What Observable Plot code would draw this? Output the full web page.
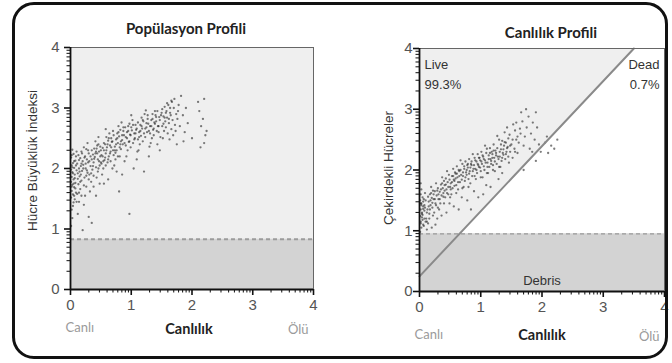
<!DOCTYPE html>
<html><head><meta charset="utf-8">
<script src="https://cdn.jsdelivr.net/npm/d3@7"></script>
<script src="https://cdn.jsdelivr.net/npm/@observablehq/plot@0.6"></script>
<style>
html,body{margin:0;padding:0;background:#fff;}
#wrap{position:relative;width:672px;height:363px;overflow:hidden;background:#fff;}
#left{position:absolute;left:0;top:0;}
#right{position:absolute;left:336px;top:0;}
#border{position:absolute;left:12px;top:2px;width:650px;height:351px;border:3px solid #111;border-radius:22px;pointer-events:none;}
</style></head><body>
<div id="wrap"><div id="left"></div><div id="right"></div><div id="border"></div></div>
<script>
const majorTicks = [0, 1, 2, 3, 4];
const tickLabels = ["0", "1", "2", "3", "4"];
const popThreshold = 0.83;
const debrisThreshold = 0.95;
const gateX = [0, 3.5];
const gateY = [0.25, 4];
const titles = ["Popülasyon Profili", "Canlılık Profili"];
const yLabels = ["Hücre Büyüklük İndeksi", "Çekirdekli Hücreler"];
const xLabel = "Canlılık";
const xEnds = ["Canlı", "Ölü"];
const gateLabels = ["Live", "99.3%", "Dead", "0.7%", "Debris"];

const popPoints = [
[0.01,1.05],[0.03,1.18],[0.02,1.32],[0.05,1.44],[0.01,1.52],[0.04,1.57],[0.02,1.63],[0.06,1.69],[0.03,1.73],[0.01,1.78],[0.05,1.82],[0.02,1.86],[0.07,1.9],[0.03,1.94],[0.01,1.98],[0.06,2.01],[0.02,2.05],[0.04,2.09],[0.08,2.13],[0.01,2.18],[0.05,2.24],[0.03,2.31],[0.09,1.6],[0.08,1.76],[0.1,1.97],[0.09,2.2],[0.04,1.38],[0.07,1.49],
[0.12,1.25],[0.14,1.45],[0.11,1.58],[0.16,1.66],[0.13,1.74],[0.18,1.8],[0.15,1.87],[0.12,1.92],[0.19,1.96],[0.14,2.0],[0.17,2.04],[0.11,2.08],[0.2,2.12],[0.16,2.17],[0.13,2.22],[0.18,2.28],[0.22,2.35],[0.24,1.55],[0.26,1.7],[0.23,1.85],[0.28,1.93],[0.25,2.0],[0.21,2.06],[0.29,2.1],[0.27,2.15],[0.24,2.2],[0.3,2.25],[0.26,2.32],[0.28,2.42],[0.22,1.4],[0.3,1.2],[0.35,1.1],[0.2,0.98],
[0.32,1.62],[0.34,1.78],[0.31,1.9],[0.36,1.98],[0.33,2.04],[0.38,2.1],[0.35,2.15],[0.4,2.19],[0.37,2.23],[0.42,2.28],[0.39,2.33],[0.44,2.38],[0.41,2.45],[0.46,2.52],[0.43,1.85],[0.45,1.95],[0.48,2.05],[0.47,2.12],[0.49,2.2],[0.44,2.25],[0.5,2.3],[0.46,2.4],[0.38,1.7],[0.42,1.55],[0.48,1.75],
[0.52,1.9],[0.54,2.0],[0.51,2.08],[0.56,2.14],[0.53,2.2],[0.58,2.25],[0.55,2.3],[0.6,2.35],[0.57,2.4],[0.62,2.46],[0.59,2.52],[0.64,2.58],[0.61,2.1],[0.63,2.2],[0.66,2.28],[0.65,2.38],[0.68,2.44],[0.67,2.5],[0.7,2.62],[0.69,2.0],[0.55,1.75],[0.62,1.82],[0.58,2.65],
[0.72,2.05],[0.74,2.15],[0.71,2.22],[0.76,2.3],[0.73,2.36],[0.78,2.42],[0.75,2.48],[0.8,2.53],[0.77,2.58],[0.82,2.64],[0.79,2.7],[0.84,2.76],[0.81,2.2],[0.83,2.32],[0.86,2.4],[0.85,2.47],[0.88,2.55],[0.87,2.62],[0.9,2.68],[0.89,2.12],[0.76,1.95],[0.8,1.62],[0.85,1.9],
[0.92,2.2],[0.94,2.3],[0.91,2.38],[0.96,2.44],[0.93,2.5],[0.98,2.56],[0.95,2.62],[1.0,2.68],[0.97,2.74],[1.02,2.8],[0.99,2.35],[1.03,2.42],[1.06,2.5],[1.05,2.58],[1.08,2.64],[1.07,2.72],[1.1,2.28],[1.09,2.15],[0.97,1.25],[1.04,2.0],[1.0,2.88],
[1.12,2.3],[1.14,2.4],[1.11,2.48],[1.16,2.54],[1.13,2.6],[1.18,2.66],[1.15,2.72],[1.2,2.78],[1.17,2.84],[1.22,2.9],[1.19,2.45],[1.23,2.52],[1.26,2.6],[1.25,2.68],[1.28,2.74],[1.27,2.82],[1.3,2.36],[1.29,2.2],[1.21,1.95],[1.24,2.96],
[1.32,2.42],[1.34,2.5],[1.31,2.58],[1.36,2.64],[1.33,2.7],[1.38,2.76],[1.35,2.82],[1.4,2.88],[1.37,2.55],[1.42,2.62],[1.39,2.95],[1.44,2.7],[1.41,2.78],[1.46,2.85],[1.43,2.4],[1.48,2.52],[1.45,2.6],[1.5,2.92],[1.47,2.3],
[1.52,2.5],[1.54,2.62],[1.51,2.7],[1.56,2.78],[1.53,2.86],[1.58,2.95],[1.55,3.02],[1.6,2.58],[1.57,2.68],[1.62,2.75],[1.59,2.84],[1.64,2.92],[1.61,3.05],[1.66,2.65],[1.63,2.48],[1.68,2.8],[1.65,2.88],[1.7,3.0],[1.67,3.1],[1.72,2.72],[1.69,2.55],[1.74,2.9],[1.71,3.15],[1.76,2.82],[1.73,2.62],[1.78,3.05],[1.75,2.4],[1.8,2.7],[1.77,2.95],[1.82,3.2],
[1.85,2.88],[1.88,2.6],[1.9,3.0],[1.86,2.45],[1.93,2.75],[2.0,2.5],[2.1,3.1],[2.12,2.95],[2.15,2.7],[2.18,2.82],[2.2,3.15],[2.22,2.55],[2.14,2.35],[2.24,2.62],[2.2,2.42],
[0.02,1.7],[0.04,1.92],[0.06,2.12],[0.03,2.02],[0.05,1.75],[0.07,1.84],[0.02,2.22],[0.08,1.67],[0.09,2.05],[0.1,2.28],
[0.12,1.83],[0.15,1.95],[0.18,2.08],[0.14,2.14],[0.17,1.9],[0.21,2.0],[0.23,2.18],[0.19,2.25],[0.16,1.78],[0.25,2.08],
[0.27,1.97],[0.29,2.3],[0.31,2.12],[0.33,2.2],[0.35,2.3],[0.37,2.04],[0.39,2.16],[0.41,2.25],[0.43,2.33],[0.45,2.15],
[0.47,2.28],[0.49,2.36],[0.51,2.22],[0.53,2.34],[0.55,2.42],[0.57,2.18],[0.59,2.3],[0.61,2.4],[0.63,2.5],[0.65,2.25],
[0.67,2.35],[0.69,2.45],[0.71,2.55],[0.73,2.3],[0.75,2.4],[0.77,2.5],[0.79,2.6],[0.81,2.35],[0.83,2.45],[0.85,2.55],
[0.87,2.68],[0.89,2.42],[0.91,2.52],[0.93,2.6],[0.95,2.7],[0.97,2.45],[0.99,2.55],[1.01,2.63],[1.03,2.72],[1.05,2.48],
[1.07,2.58],[1.09,2.66],[1.11,2.76],[1.13,2.52],[1.15,2.62],[1.17,2.7],[1.19,2.8],[1.21,2.58],[1.23,2.66],[1.25,2.75],
[1.27,2.88],[1.29,2.62],[1.31,2.7],[1.33,2.8],[1.35,2.9],[1.37,2.66],[1.39,2.74],[1.41,2.85],[1.43,2.95],[1.45,2.7],
[1.47,2.8],[1.49,2.88],[1.51,2.98],[1.53,2.74],[1.55,2.84],[1.57,2.92],[1.59,3.08],[1.62,2.82],[1.64,3.0],[1.66,3.12],
[0.06,1.55],[0.1,1.45],[0.14,1.6],[0.18,1.55],[0.22,1.72],[0.26,1.88],[0.3,1.82],[0.34,1.92],[0.38,1.88],[0.42,2.02],
[0.46,2.0],[0.5,2.1],[0.54,2.12],[0.58,2.05],[0.62,2.15],[0.66,2.12],[0.7,2.3],[0.74,2.26],[0.78,2.2],[0.82,2.4]
];

const viaPoints = [
[0.01,0.98],[0.03,1.05],[0.02,1.12],[0.05,1.18],[0.01,1.24],[0.04,1.3],[0.02,1.35],[0.06,1.4],[0.03,1.45],[0.01,1.5],[0.05,1.55],[0.02,1.6],[0.07,1.08],[0.04,1.22],[0.08,1.33],[0.06,1.48],[0.09,1.62],[0.03,1.68],[0.1,1.15],[0.08,1.42],[0.02,1.78],
[0.12,1.02],[0.14,1.12],[0.11,1.2],[0.16,1.28],[0.13,1.35],[0.18,1.42],[0.15,1.48],[0.2,1.54],[0.17,1.6],[0.22,1.66],[0.19,1.72],[0.24,1.3],[0.21,1.38],[0.26,1.45],[0.23,1.52],[0.28,1.58],[0.25,1.65],[0.3,1.7],[0.27,1.78],[0.29,1.2],[0.2,1.05],[0.26,1.1],
[0.32,1.35],[0.34,1.45],[0.31,1.52],[0.36,1.58],[0.33,1.64],[0.38,1.7],[0.35,1.76],[0.4,1.82],[0.37,1.88],[0.42,1.55],[0.39,1.62],[0.44,1.68],[0.41,1.75],[0.46,1.8],[0.43,1.86],[0.48,1.92],[0.45,1.98],[0.5,1.72],[0.47,1.6],[0.49,1.45],[0.36,1.25],[0.44,1.3],
[0.52,1.6],[0.54,1.7],[0.51,1.78],[0.56,1.84],[0.53,1.9],[0.58,1.96],[0.55,2.02],[0.6,1.75],[0.57,1.82],[0.62,1.88],[0.59,1.94],[0.64,2.0],[0.61,2.06],[0.66,1.8],[0.63,1.68],[0.68,1.92],[0.65,1.98],[0.7,2.1],[0.67,2.16],[0.69,1.55],[0.56,1.4],[0.64,1.35],
[0.72,1.72],[0.74,1.82],[0.71,1.9],[0.76,1.96],[0.73,2.02],[0.78,2.08],[0.75,2.14],[0.8,1.85],[0.77,1.92],[0.82,1.98],[0.79,2.04],[0.84,2.1],[0.81,2.18],[0.86,1.9],[0.83,1.78],[0.88,2.02],[0.85,2.08],[0.9,2.2],[0.87,2.26],[0.89,1.65],[0.78,1.5],[0.84,1.35],
[0.92,1.85],[0.94,1.95],[0.91,2.02],[0.96,2.08],[0.93,2.14],[0.98,2.2],[0.95,2.26],[1.0,1.98],[0.97,2.05],[1.02,2.1],[0.99,2.16],[1.04,2.22],[1.01,2.3],[1.06,2.0],[1.03,1.88],[1.08,2.12],[1.05,2.18],[1.1,2.35],[1.07,2.4],[1.09,1.75],[0.96,1.55],[1.04,1.6],
[1.12,1.95],[1.14,2.05],[1.11,2.12],[1.16,2.18],[1.13,2.24],[1.18,2.3],[1.15,2.36],[1.2,2.08],[1.17,2.15],[1.22,2.2],[1.19,2.26],[1.24,2.32],[1.21,2.42],[1.26,2.1],[1.23,1.98],[1.28,2.22],[1.25,2.28],[1.3,2.5],[1.27,2.56],[1.29,1.85],[1.16,1.72],
[1.32,2.05],[1.34,2.15],[1.31,2.22],[1.36,2.28],[1.33,2.34],[1.38,2.4],[1.35,2.48],[1.4,2.18],[1.37,2.25],[1.42,2.3],[1.39,2.62],[1.44,2.38],[1.41,2.45],[1.46,2.12],[1.43,2.7],[1.48,2.3],[1.45,2.52],[1.5,2.42],[1.47,2.58],[1.52,2.2],[1.55,2.35],[1.58,2.5],[1.53,2.75],[1.56,2.65],[1.6,2.28],[1.35,1.95],
[1.62,2.45],[1.65,2.6],[1.68,2.8],[1.7,2.4],[1.66,2.95],[1.72,2.55],[1.75,2.7],[1.78,2.88],[1.8,2.35],[1.74,3.0],[1.82,2.6],[1.85,2.78],[1.88,2.5],[1.9,2.95],[1.84,2.3],[1.92,2.7],[1.95,2.42],
[1.98,2.3],[2.05,2.45],[2.1,2.28],[2.15,2.4],[2.2,2.35],[2.08,2.55],[2.25,2.5],[1.7,2.0],[1.9,2.15],
[0.02,1.15],[0.04,1.28],[0.06,1.36],[0.03,1.42],[0.05,1.26],[0.07,1.52],[0.02,1.45],[0.08,1.2],[0.09,1.38],[0.1,1.5],
[0.12,1.3],[0.15,1.4],[0.18,1.5],[0.14,1.56],[0.17,1.35],[0.21,1.46],[0.23,1.6],[0.19,1.62],[0.16,1.2],[0.25,1.52],
[0.27,1.42],[0.29,1.66],[0.31,1.6],[0.33,1.52],[0.35,1.68],[0.37,1.78],[0.39,1.56],[0.41,1.66],[0.43,1.76],[0.45,1.62],
[0.47,1.72],[0.49,1.84],[0.51,1.68],[0.53,1.8],[0.55,1.9],[0.57,1.74],[0.59,1.86],[0.61,1.94],[0.63,1.8],[0.65,1.9],
[0.67,2.0],[0.69,1.84],[0.71,1.96],[0.73,2.06],[0.75,1.88],[0.77,2.0],[0.79,2.1],[0.81,1.94],[0.83,2.04],[0.85,2.14],
[0.87,1.98],[0.89,2.08],[0.91,2.16],[0.93,2.0],[0.95,2.1],[0.97,2.2],[0.99,2.04],[1.01,2.14],[1.03,2.24],[1.05,2.06],
[1.07,2.16],[1.09,2.28],[1.11,2.05],[1.13,2.18],[1.15,2.28],[1.17,2.1],[1.19,2.2],[1.21,2.32],[1.23,2.14],[1.25,2.24],
[1.27,2.36],[1.29,2.18],[1.31,2.3],[1.33,2.42],[1.35,2.2],[1.37,2.34],[1.39,2.46],[1.41,2.26],[1.43,2.36],[1.45,2.22],
[0.06,1.1],[0.12,1.15],[0.22,1.25],[0.3,1.38],[0.4,1.45],[0.5,1.55],[0.6,1.62],[0.7,1.7],[0.8,1.72],[0.9,1.9],
[1.0,1.88],[1.1,1.95],[1.2,2.0],[1.3,2.05],[1.48,2.4],[1.52,2.5],[1.56,2.3],[1.6,2.55],[1.64,2.68],[1.58,2.78]
];

const minorTicks = [];
for (let d = 0; d < 4; d++) for (let k = 2; k <= 9; k++) minorTicks.push(d + Math.log10(k));

const sans = "Liberation Sans, Arial, sans-serif";
const head = "Lato, Open Sans, sans-serif";

function axesMarks(frameW, frameH, padY) {
  return [
    Plot.tickX(minorTicks, {x: d => d, insetTop: frameH, insetBottom: -3.5, stroke: "#222", strokeWidth: 1.1}),
    Plot.tickX(majorTicks, {x: d => d, insetTop: frameH, insetBottom: -6, stroke: "#111", strokeWidth: 1.6}),
    Plot.tickY(minorTicks, {y: d => d, insetRight: frameW, insetLeft: -3.5, stroke: "#222", strokeWidth: 1.1}),
    Plot.tickY(majorTicks, {y: d => d, insetRight: frameW, insetLeft: -6, stroke: "#111", strokeWidth: 1.6}),
    Plot.ruleX([0], {stroke: "#111", strokeWidth: 1.8}),
    Plot.ruleY([0], {stroke: "#111", strokeWidth: 1.8}),
    Plot.axisX(majorTicks, {tickSize: 0, tickPadding: 10, fontSize: 15, color: "#555", tickFormat: (d, i) => tickLabels[i], label: null}),
    Plot.axisY(majorTicks, {tickSize: 0, tickPadding: padY, fontSize: 15, color: "#555", tickFormat: (d, i) => tickLabels[i], label: null})
  ];
}

function textBits(i, o) {
  return [
    Plot.text([titles[i]], {text: d => d, frameAnchor: "top", lineAnchor: "middle", dy: o.titleDy, dx: o.titleDx, fontWeight: "bold", fontSize: 15, fontFamily: head, fill: "#222"}),
    Plot.text([xLabel], {text: d => d, frameAnchor: "bottom", lineAnchor: "middle", dy: o.xlabDy, dx: o.xlabDx, fontWeight: "bold", fontSize: 14.5, fontFamily: head, fill: "#222"}),
    Plot.text([{x: 0, t: xEnds[0]}], {x: "x", text: "t", frameAnchor: "bottom", lineAnchor: "middle", textAnchor: "start", dx: -5, dy: o.endDy, fontSize: 13, fontFamily: head, fill: "#9a9a9a"}),
    Plot.text([{x: 4, t: xEnds[1]}], {x: "x", text: "t", frameAnchor: "bottom", lineAnchor: "middle", textAnchor: "end", dx: -5, dy: o.endDy + 2, fontSize: 13, fontFamily: head, fill: "#9a9a9a"}),
    Plot.text([yLabels[i]], {text: d => d, frameAnchor: "left", textAnchor: "middle", lineAnchor: "middle", rotate: -90, dx: o.ylabDx, dy: o.ylabDy, fontSize: 13.5, fontFamily: sans, fill: "#333"})
  ];
}

const dotStyle = {x: d => d[0], y: d => d[1], r: 1.15, fill: "#1f1f1f", fillOpacity: 0.58, stroke: null};

const left = Plot.plot({
  width: 336, height: 363,
  marginLeft: 70, marginRight: 23, marginTop: 47, marginBottom: 74,
  style: {fontFamily: sans, background: "transparent", overflow: "visible"},
  x: {domain: [0, 4]},
  y: {domain: [0, 4]},
  marks: [
    Plot.rect([{x1: 0, x2: 4, y1: 0, y2: 4}], {x1: "x1", x2: "x2", y1: "y1", y2: "y2", fill: "#efefef"}),
    Plot.rect([{x1: 0, x2: 4, y1: 0, y2: popThreshold}], {x1: "x1", x2: "x2", y1: "y1", y2: "y2", fill: "#d3d3d3"}),
    Plot.dot(popPoints, dotStyle),
    Plot.ruleY([popThreshold], {stroke: "#9c9c9c", strokeWidth: 2, strokeDasharray: "4,3"}),
    Plot.frame({stroke: "#666"}),
    ...axesMarks(243, 242, 11),
    ...textBits(0, {titleDy: -18, titleDx: -6, xlabDy: 40, xlabDx: -3, endDy: 38, ylabDx: -38, ylabDy: -8})
  ]
});
document.getElementById("left").appendChild(left);

const gateArea = gateX.map((x, i) => ({x, y: gateY[i], top: 4}));
const right = Plot.plot({
  width: 336, height: 363,
  marginLeft: 83, marginRight: 8, marginTop: 48, marginBottom: 72,
  style: {fontFamily: sans, background: "transparent", overflow: "visible"},
  x: {domain: [0, 4]},
  y: {domain: [0, 4]},
  marks: [
    Plot.areaY(gateArea, {x: "x", y1: "y", y2: "top", fill: "#efefef"}),
    Plot.rect([{x1: 0, x2: 4, y1: 0, y2: debrisThreshold}], {x1: "x1", x2: "x2", y1: "y1", y2: "y2", fill: "#d3d3d3"}),
    Plot.dot(viaPoints, dotStyle),
    Plot.ruleY([debrisThreshold], {stroke: "#999", strokeWidth: 1.2, strokeDasharray: "4,3"}),
    Plot.line(gateArea, {x: "x", y: "y", stroke: "#8a8a8a", strokeWidth: 2}),
    Plot.frame({stroke: "#666"}),
    ...axesMarks(245, 243, 7),
    Plot.text([gateLabels[0]], {text: d => d, frameAnchor: "top-left", textAnchor: "start", lineAnchor: "middle", dx: 5, dy: 16, fontSize: 13, fill: "#333"}),
    Plot.text([gateLabels[1]], {text: d => d, frameAnchor: "top-left", textAnchor: "start", lineAnchor: "middle", dx: 5, dy: 36, fontSize: 13, fill: "#333"}),
    Plot.text([gateLabels[2]], {text: d => d, frameAnchor: "top-right", textAnchor: "end", lineAnchor: "middle", dx: -5, dy: 16, fontSize: 13, fill: "#333"}),
    Plot.text([gateLabels[3]], {text: d => d, frameAnchor: "top-right", textAnchor: "end", lineAnchor: "middle", dx: -5, dy: 36, fontSize: 13, fill: "#333"}),
    Plot.text([gateLabels[4]], {text: d => d, frameAnchor: "bottom", textAnchor: "middle", lineAnchor: "middle", dy: -11, fontSize: 13, fill: "#333"}),
    ...textBits(1, {titleDy: -15, titleDx: 9, xlabDy: 44, xlabDx: 0, endDy: 43, ylabDx: -31, ylabDy: -2})
  ]
});
document.getElementById("right").appendChild(right);
</script>
</body></html>
